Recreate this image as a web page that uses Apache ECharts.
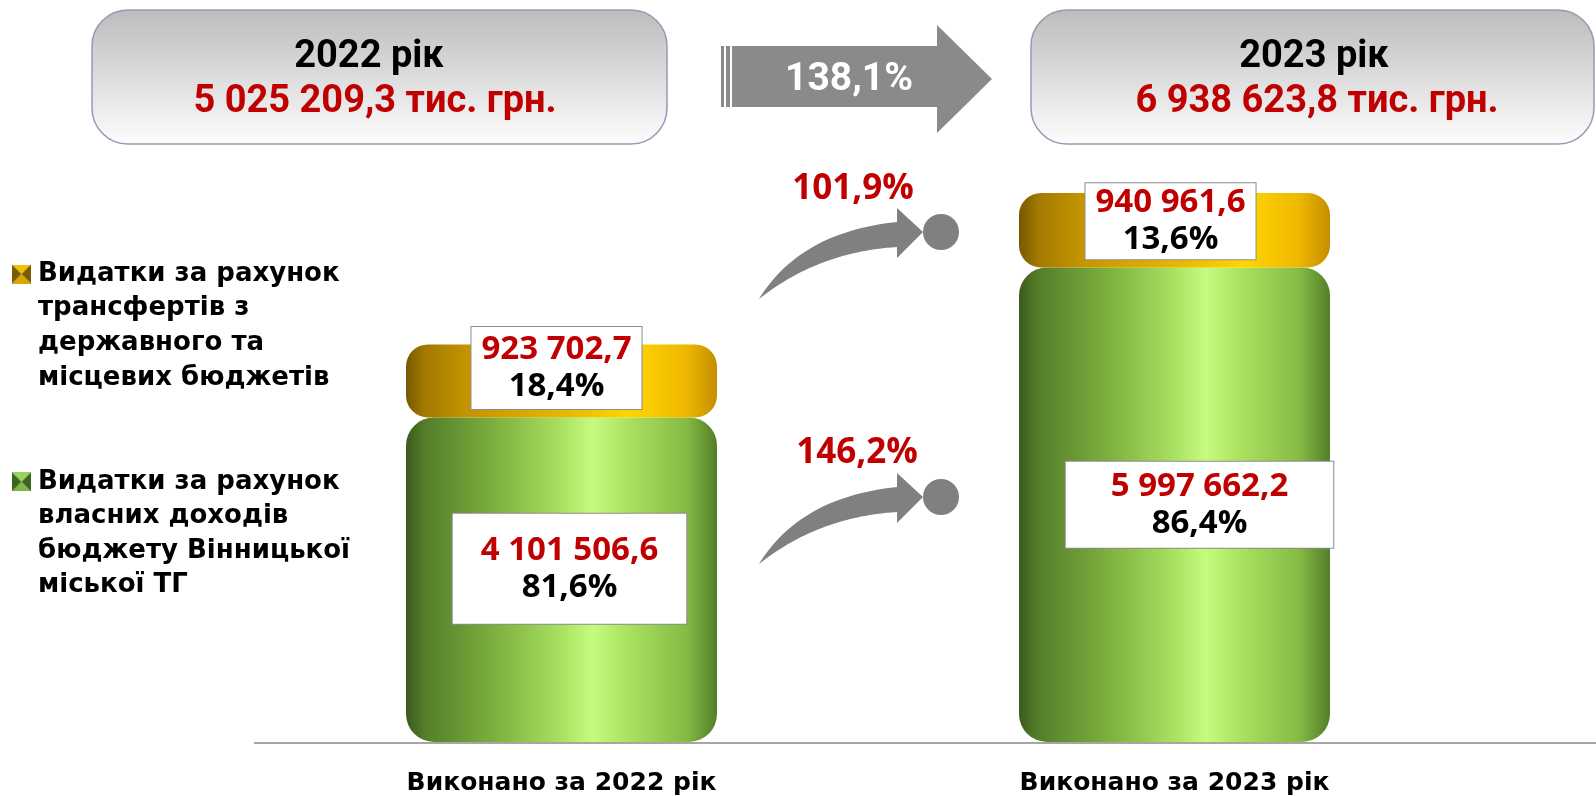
<!DOCTYPE html>
<html>
<head>
<meta charset="utf-8">
<script src="https://cdn.jsdelivr.net/npm/echarts@6/dist/echarts.min.js"></script>
<style>
html,body{margin:0;padding:0;background:#fff;}
#chart{width:1596px;height:796px;}
</style>
</head>
<body>
<div id="chart"></div>
<script>
// ---- data ----
const categories = ['Виконано за 2022 рік', 'Виконано за 2023 рік'];
const years = ['2022 рік', '2023 рік'];
const ownRevenue = [4101506.6, 5997662.2];
const transfers = [923702.7, 940961.6];
const transferLabel = ['Видатки за рахунок', 'трансфертів з', 'державного та', 'місцевих бюджетів'];
const ownLabel = ['Видатки за рахунок', 'власних доходів', 'бюджету Вінницької', 'міської ТГ'];
const unit = 'тис. грн.';

// ---- helpers ----
const totals = ownRevenue.map((v, i) => v + transfers[i]);
function fmt(v) {
  const s = v.toFixed(1).split('.');
  return s[0].replace(/\B(?=(\d{3})+(?!\d))/g, ' ') + ',' + s[1];
}
function pct(r) { return (r * 100).toFixed(1).replace('.', ',') + '%'; }

const transferName = transferLabel.join(' ');
const ownName = ownLabel.join(' ');

// bevelled legend icon
function bevelIcon(top, side, bottom) {
  const c = document.createElement('canvas');
  c.width = 19; c.height = 19;
  const g = c.getContext('2d');
  const s = 19, h = 9.5;
  const tri = (pts, col) => { g.beginPath(); g.moveTo(pts[0][0], pts[0][1]); pts.slice(1).forEach(p => g.lineTo(p[0], p[1])); g.closePath(); g.fillStyle = col; g.fill(); };
  tri([[0, 0], [s, 0], [h, h]], top);
  tri([[0, s], [s, s], [h, h]], bottom);
  tri([[0, 0], [0, s], [h, h]], side);
  tri([[s, 0], [s, s], [h, h]], side);
  return c;
}
const goldIcon = bevelIcon('#f2c200', '#7a5c00', '#d9a800');
const greenIcon = bevelIcon('#9bd45a', '#3f6320', '#7fb644');

const chart = echarts.init(document.getElementById('chart'), null, {renderer: 'canvas'});
const G = echarts.graphic;

const greenGrad = new G.LinearGradient(0, 0, 1, 0, [
  {offset: 0, color: '#3c5a1d'}, {offset: 0.06, color: '#547d2a'},
  {offset: 0.3, color: '#80b340'}, {offset: 0.5, color: '#a9e161'},
  {offset: 0.6, color: '#c6fc7e'}, {offset: 0.72, color: '#a9e05e'},
  {offset: 0.9, color: '#86bb45'}, {offset: 1, color: '#537e28'}
]);
const orangeGrad = new G.LinearGradient(0, 0, 1, 0, [
  {offset: 0, color: '#765700'}, {offset: 0.06, color: '#a27a00'},
  {offset: 0.2, color: '#c59400'}, {offset: 0.5, color: '#e6b600'},
  {offset: 0.72, color: '#ffd600'}, {offset: 0.9, color: '#efb800'},
  {offset: 1, color: '#c48e00'}
]);

const labelRich = {
  v: {color: '#c00000', fontFamily: 'Open Sans', fontWeight: 'bold', fontSize: 33, lineHeight: 37},
  p: {color: '#000000', fontFamily: 'Open Sans', fontWeight: 'bold', fontSize: 33, lineHeight: 37}
};
function segLabel(offset, padding) {
  return {
    show: true, position: 'inside', offset: offset, padding: padding,
    backgroundColor: '#ffffff', borderColor: '#8c8c8c', borderWidth: 1,
    rich: labelRich
  };
}
const greenLabelCfg = [segLabel([8, -11], [18, 28]), segLabel([25, 0], [6, 45])];
const orangeLabelCfg = [segLabel([-5, -13], [4, 10]), segLabel([-4, -9], [1, 10])];

// curved arrow polygon
function quad(p0, p1, p2, n) {
  const pts = [];
  for (let i = 0; i <= n; i++) {
    const t = i / n, a = (1 - t) * (1 - t), b = 2 * (1 - t) * t, c = t * t;
    pts.push([a * p0[0] + b * p1[0] + c * p2[0], a * p0[1] + b * p1[1] + c * p2[1]]);
  }
  return pts;
}
function curvedArrow(oy) {
  const top = quad([759, 299 + oy], [800, 232 + oy], [897, 222 + oy], 30);
  const head = [[897, 208 + oy], [923, 232 + oy], [897, 258 + oy]];
  const bot = quad([897, 247 + oy], [818, 252 + oy], [759, 299 + oy], 30);
  return top.concat(head, bot);
}

const headerFont = 'bold 38px Roboto';
const growthOwn = pct(ownRevenue[1] / ownRevenue[0]);
const growthTr = pct(transfers[1] / transfers[0]);
const growthTotal = pct(totals[1] / totals[0]);
const boxFill = () => new G.LinearGradient(0, 0, 0, 1, [{offset: 0, color: '#bcbcbc'}, {offset: 1, color: '#fdfdfd'}]);

const graphic = [
  // header boxes
  {type: 'rect', shape: {x: 92, y: 10, width: 575, height: 134, r: 36},
   style: {fill: boxFill(), stroke: '#9d95b5', lineWidth: 1.5}},
  {type: 'rect', shape: {x: 1031, y: 10, width: 563, height: 134, r: 36},
   style: {fill: boxFill(), stroke: '#9d95b5', lineWidth: 1.5}},
  {type: 'text', x: 369, y: 57, style: {text: years[0], font: headerFont, fill: '#000', align: 'center', verticalAlign: 'middle'}},
  {type: 'text', x: 375, y: 102, style: {text: fmt(totals[0]) + ' ' + unit, font: headerFont, fill: '#c00000', align: 'center', verticalAlign: 'middle'}},
  {type: 'text', x: 1314, y: 57, style: {text: years[1], font: headerFont, fill: '#000', align: 'center', verticalAlign: 'middle'}},
  {type: 'text', x: 1317, y: 102, style: {text: fmt(totals[1]) + ' ' + unit, font: headerFont, fill: '#c00000', align: 'center', verticalAlign: 'middle'}},
  // block arrow
  {type: 'rect', shape: {x: 721, y: 46, width: 3, height: 61}, style: {fill: '#8a8a8a'}},
  {type: 'rect', shape: {x: 726, y: 46, width: 4, height: 61}, style: {fill: '#8a8a8a'}},
  {type: 'polygon', shape: {points: [[732, 46], [937, 46], [937, 25], [992, 79], [937, 133], [937, 107], [732, 107]]}, style: {fill: '#8a8a8a'}},
  {type: 'text', x: 849, y: 80, style: {text: growthTotal, font: 'bold 39px Roboto', fill: '#ffffff', align: 'center', verticalAlign: 'middle'}},
  // curved arrows
  {type: 'polygon', shape: {points: curvedArrow(0)}, style: {fill: '#808080'}},
  {type: 'circle', shape: {cx: 941, cy: 232, r: 18}, style: {fill: '#808080'}},
  {type: 'text', x: 853, y: 189, style: {text: growthTr, font: 'bold 35px "Open Sans"', fill: '#c00000', align: 'center', verticalAlign: 'middle'}},
  {type: 'polygon', shape: {points: curvedArrow(265)}, style: {fill: '#808080'}},
  {type: 'circle', shape: {cx: 941, cy: 497, r: 18}, style: {fill: '#808080'}},
  {type: 'text', x: 857, y: 453, style: {text: growthOwn, font: 'bold 35px "Open Sans"', fill: '#c00000', align: 'center', verticalAlign: 'middle'}},
  // baseline
  {type: 'line', shape: {x1: 254, y1: 743, x2: 1596, y2: 743}, style: {stroke: '#a6a6a6', lineWidth: 2}, z: -1}
];

const legendLines = {};
legendLines[transferName] = {lines: transferLabel, m: 'm0'};
legendLines[ownName] = {lines: ownLabel, m: 'm1'};

const option = {
  animation: false,
  backgroundColor: '#ffffff',
  grid: {left: 255, width: 1226, top: 109, bottom: 53},
  legend: {
    orient: 'vertical', left: 2, top: 256, itemGap: 78, selectedMode: false,
    icon: 'none', itemWidth: 0, itemHeight: 10,
    data: [transferName, ownName],
    formatter: function (name) {
      const d = legendLines[name];
      return d.lines.map((l, i) => (i === 0 ? '{' + d.m + '|}{g|}' : '{i|}') + '{t|' + l + '}').join('\n');
    },
    textStyle: {
      rich: {
        m0: {width: 19, height: 19, backgroundColor: {image: goldIcon}},
        m1: {width: 19, height: 19, backgroundColor: {image: greenIcon}},
        g: {width: 7},
        i: {width: 26},
        t: {fontFamily: 'DejaVu Sans', fontWeight: 'bold', fontSize: 26, lineHeight: 34.6, color: '#000'}
      }
    }
  },
  xAxis: {
    type: 'category', data: categories,
    axisLine: {show: false}, axisTick: {show: false},
    axisLabel: {margin: 29, color: '#000', fontFamily: 'DejaVu Sans', fontWeight: 'bold', fontSize: 25}
  },
  yAxis: {type: 'value', min: 0, max: 8000000, show: false, splitLine: {show: false}},
  series: [
    {
      name: ownName, type: 'bar', stack: 'total', barWidth: 311,
      itemStyle: {color: greenGrad, borderRadius: 28},
      data: ownRevenue.map((v, i) => ({value: v, label: greenLabelCfg[i]})),
      label: {
        formatter: p => '{v|' + fmt(p.value) + '}\n{p|' + pct(p.value / totals[p.dataIndex]) + '}'
      }
    },
    {
      name: transferName, type: 'bar', stack: 'total', barWidth: 311,
      itemStyle: {color: orangeGrad, borderRadius: 22},
      data: transfers.map((v, i) => ({value: v, label: orangeLabelCfg[i]})),
      label: {
        formatter: p => '{v|' + fmt(p.value) + '}\n{p|' + pct(p.value / totals[p.dataIndex]) + '}'
      }
    }
  ],
  graphic: graphic
};
chart.setOption(option);
</script>
</body>
</html>
